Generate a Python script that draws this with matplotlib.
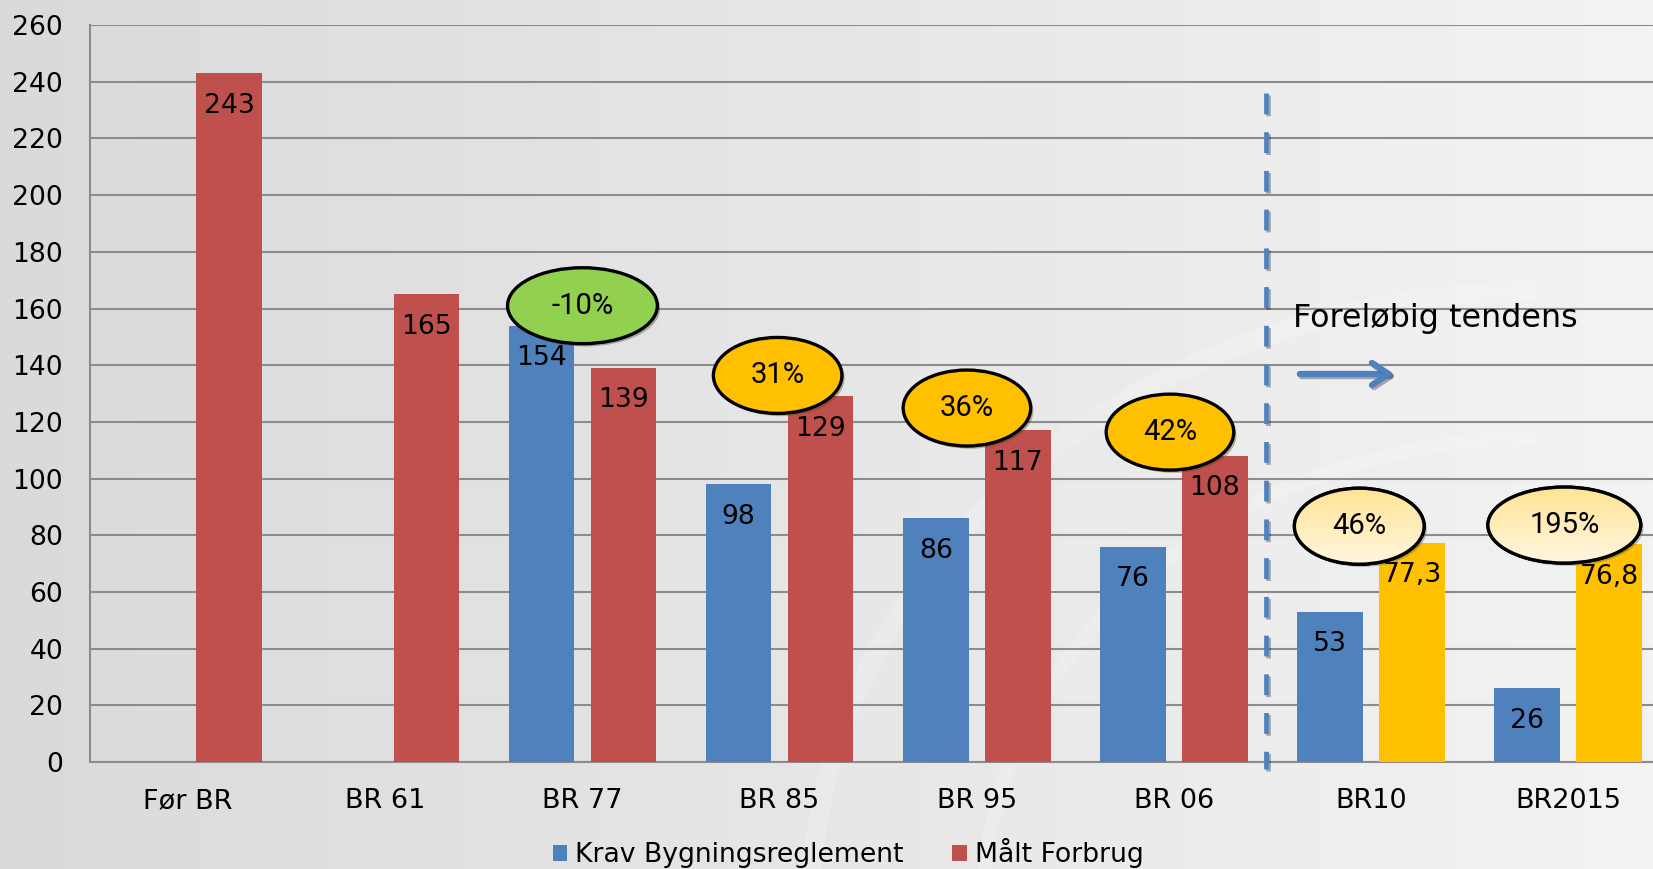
import numpy as np
import matplotlib
matplotlib.use("Agg")
import matplotlib.pyplot as plt
from matplotlib.patches import Ellipse, Arc
import matplotlib.patheffects as pe

# data
categories = ["Før BR", "BR 61", "BR 77", "BR 85", "BR 95", "BR 06", "BR10", "BR2015"]
krav = [np.nan, np.nan, 154, 98, 86, 76, 53, 26]
maalt = [243, 165, 139, 129, 117, 108, 77.3, 76.8]
krav_labels = ["", "", "154", "98", "86", "76", "53", "26"]
maalt_labels = ["243", "165", "139", "129", "117", "108", "77,3", "76,8"]
badges = ["-10%", "31%", "36%", "42%", "46%", "195%"]
yticks = list(range(0, 261, 20))

BLUE = "#4F81BD"
RED = "#C0504D"
ORANGE = "#FFC000"
GREEN = "#92D050"
maalt_colors = [RED] * 6 + [ORANGE] * 2

# badge layout (data coords)
badge_x = [2.0, 2.99, 3.95, 4.98, 5.94, 6.98]
badge_y = [161, 136.4, 124.9, 116.4, 83.2, 83.6]
badge_w = [0.76, 0.652, 0.647, 0.647, 0.658, 0.775]
badge_h = 26.8
badge_kind = ["green", "gold", "gold", "gold", "light", "light"]

fig = plt.figure(figsize=(16.53, 8.69), dpi=100)

# background gradient
bg = fig.add_axes([0, 0, 1, 1], zorder=-10)
grad = np.linspace(0, 1, 256)[None, :]
light = np.array([0.855, 0.855, 0.855])
dark = np.array([0.953, 0.953, 0.953])
img = light[None, None, :] * (1 - grad[..., None]) + dark[None, None, :] * grad[..., None]
bg.imshow(img, aspect="auto", extent=[0, 1, 0, 1])
# faint watermark arcs
for r, lw in [(0.55, 14), (0.42, 10)]:
    bg.add_patch(Arc((0.93, -0.05), r * 1.6, r * 2.6, theta1=90, theta2=180,
                     color="white", lw=lw, alpha=0.18))
bg.set_xlim(0, 1)
bg.set_ylim(0, 1)
bg.axis("off")

ax = fig.add_axes([0.0542, 0.1231, 0.9458, 0.848])
ax.patch.set_alpha(0)

x = np.arange(len(categories))
off = 0.208
w = 0.333
ax.bar(x - off, krav, w, color=BLUE, zorder=3, label="Krav Bygningsreglement")
ax.bar(x + off, maalt, w, color=maalt_colors, zorder=3, label="Målt Forbrug")

for i in range(len(categories)):
    if krav_labels[i]:
        ax.annotate(krav_labels[i], (x[i] - off, krav[i]), xytext=(0, -28.3),
                    textcoords="offset points", ha="center", va="baseline",
                    fontsize=19.2, zorder=5)
    ax.annotate(maalt_labels[i], (x[i] + off, maalt[i]), xytext=(0, -28.3),
                textcoords="offset points", ha="center", va="baseline",
                fontsize=19.2, zorder=5)

ax.set_xlim(-0.5, 7.43)
ax.set_ylim(0, 260)
ax.set_yticks(yticks)
ax.set_xticks(x)
ax.set_xticklabels(categories)
ax.tick_params(axis="y", length=0, pad=19, labelsize=19.2)
ax.tick_params(axis="x", length=0, pad=19, labelsize=19.5)
ax.grid(axis="y", color="#8C8C8C", lw=1.5, zorder=1)
for s in ["top", "right"]:
    ax.spines[s].set_visible(False)
ax.spines["left"].set_color("#8C8C8C")
ax.spines["left"].set_linewidth(1.5)
ax.spines["bottom"].set_color("#8C8C8C")
ax.spines["bottom"].set_linewidth(1.5)

# percentage badges
shadow = [pe.SimplePatchShadow(offset=(2, -2), alpha=0.35), pe.Normal()]
for txt, bx, by, bw, kind in zip(badges, badge_x, badge_y, badge_w, badge_kind):
    face = {"green": GREEN, "gold": ORANGE, "light": "none"}[kind]
    e = Ellipse((bx, by), bw, badge_h, facecolor=face, edgecolor="black",
                lw=2.4, zorder=6)
    e.set_path_effects(shadow)
    ax.add_patch(e)
    if kind == "light":
        fill = Ellipse((bx, by), bw, badge_h, transform=ax.transData)
        ax.add_patch(fill)
        fill.set_visible(False)
        g = np.linspace(0, 1, 64)[:, None]
        top = np.array([1.0, 0.89, 0.58])
        bot = np.array([1.0, 0.965, 0.88])
        gimg = top[None, None, :] * (1 - g[..., None]) + bot[None, None, :] * g[..., None]
        gimg = np.repeat(gimg, 4, axis=1)
        im = ax.imshow(gimg, aspect="auto", zorder=6.5,
                       extent=[bx - bw / 2, bx + bw / 2, by - badge_h / 2, by + badge_h / 2])
        im.set_clip_path(fill)
        ax.add_patch(Ellipse((bx, by), bw, badge_h, facecolor="none",
                             edgecolor="black", lw=2.4, zorder=6.6))
    ax.text(bx, by, txt, ha="center", va="center", fontsize=21,
            family="Roboto", zorder=7)

ax.set_xlim(-0.5, 7.43)
ax.set_ylim(0, 260)

# forecast divider (drawn top-down so the dash pattern starts at the top)
line, = ax.plot([5.467, 5.467], [236, -2.6], color=BLUE, lw=3.4, zorder=4,
                clip_on=False)
line.set_dashes((4.4, 3.8))
line.set_path_effects([pe.SimpleLineShadow(offset=(1.5, -1.5), alpha=0.3), pe.Normal()])

fig.text(1293 / 1653, 1 - 326.7 / 869, "Foreløbig tendens", fontsize=22.9,
         ha="left", va="baseline")
fig.add_artist(matplotlib.patches.FancyArrowPatch(
    (1297 / 1653, 1 - 374 / 869), (1397 / 1653, 1 - 374 / 869),
    transform=fig.transFigure, arrowstyle="->,head_length=0.6,head_width=0.4",
    color=BLUE, lw=4.5, mutation_scale=20,
    path_effects=[pe.SimpleLineShadow(offset=(1.5, -1.5), alpha=0.3), pe.Normal()]))

handles, labels = ax.get_legend_handles_labels()
leg = fig.legend(handles, labels, loc="center", bbox_to_anchor=(0.513, 0.018),
                 ncol=2, frameon=False, fontsize=19.2, handlelength=0.55,
                 handleheight=0.55, handletextpad=0.3, columnspacing=1.8)

fig.savefig("out.png", dpi=100)
